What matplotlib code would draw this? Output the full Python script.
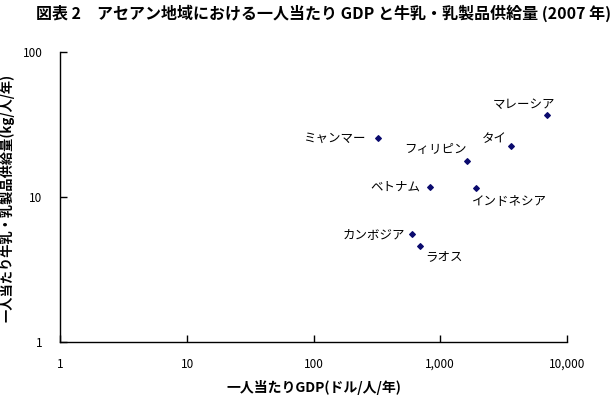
import matplotlib.pyplot as plt
from matplotlib.ticker import FixedLocator, FixedFormatter, NullLocator

plt.rcParams['font.family'] = ['Noto Sans CJK JP', 'DejaVu Sans']

# 2007, per capita GDP (USD) and milk/dairy supply (kg/person/year)
countries = ['マレーシア', 'ミャンマー', 'タイ', 'フィリピン', 'ベトナム',
             'インドネシア', 'カンボジア', 'ラオス']
gdp = [6970, 322, 3640, 1614, 823, 1901, 601, 691]
milk = [36.8, 25.4, 22.5, 17.8, 11.8, 11.5, 5.54, 4.63]

# label offsets in pixels and alignment
offsets = [(-23, 11, 'center'), (-12, 0, 'right'), (-4, 7, 'right'), (0, 11, 'right'),
           (-9, 0, 'right'), (-4, -13, 'left'), (-7, 0, 'right'), (5, -11, 'left')]

fig = plt.figure(figsize=(6.16, 3.95), dpi=100)
ax = fig.add_axes([0.0982, 0.1334, 0.822, 0.735])

ax.scatter(gdp, milk, marker='D', s=8, color='#0a0a6e', zorder=3)
for name, x, y, (dx, dy, ha) in zip(countries, gdp, milk, offsets):
    ax.annotate(name, (x, y), xytext=(dx, dy), textcoords='offset pixels',
                ha=ha, va='center', fontsize=9, color='black')

ax.set_xscale('log')
ax.set_yscale('log')
ax.set_xlim(1, 10000)
ax.set_ylim(1, 100)

xticks = [1, 10, 100, 1000, 10000]
ax.xaxis.set_major_locator(FixedLocator(xticks))
ax.xaxis.set_major_formatter(FixedFormatter(['1', '10', '100', '1,000', '10,000']))
ax.xaxis.set_minor_locator(NullLocator())
ax.yaxis.set_major_locator(FixedLocator([1, 10, 100]))
ax.yaxis.set_major_formatter(FixedFormatter(['1', '10', '100']))
ax.yaxis.set_minor_locator(NullLocator())

ax.tick_params(axis='x', direction='in', length=5, width=1, pad=11, labelsize=8.5)
ax.tick_params(axis='y', direction='in', length=5, width=1, pad=13, labelsize=8.5)
ax.spines['top'].set_visible(False)
ax.spines['right'].set_visible(False)
for s in ['left', 'bottom']:
    ax.spines[s].set_linewidth(1)

ax.set_xlabel('一人当たりGDP(ドル/人/年)', fontsize=10, fontweight='bold', labelpad=7)
ax.set_ylabel('一人当たり牛乳・乳製品供給量(kg/人/年)', fontsize=9.5, fontweight='bold')
ax.yaxis.set_label_coords(-0.09, 0.497)

fig.text(0.526, 0.966, '図表 2　アセアン地域における一人当たり GDP と牛乳・乳製品供給量 (2007 年)',
         ha='center', va='center', fontsize=11.5, fontweight='bold')

fig.savefig('out.png', dpi=100)
